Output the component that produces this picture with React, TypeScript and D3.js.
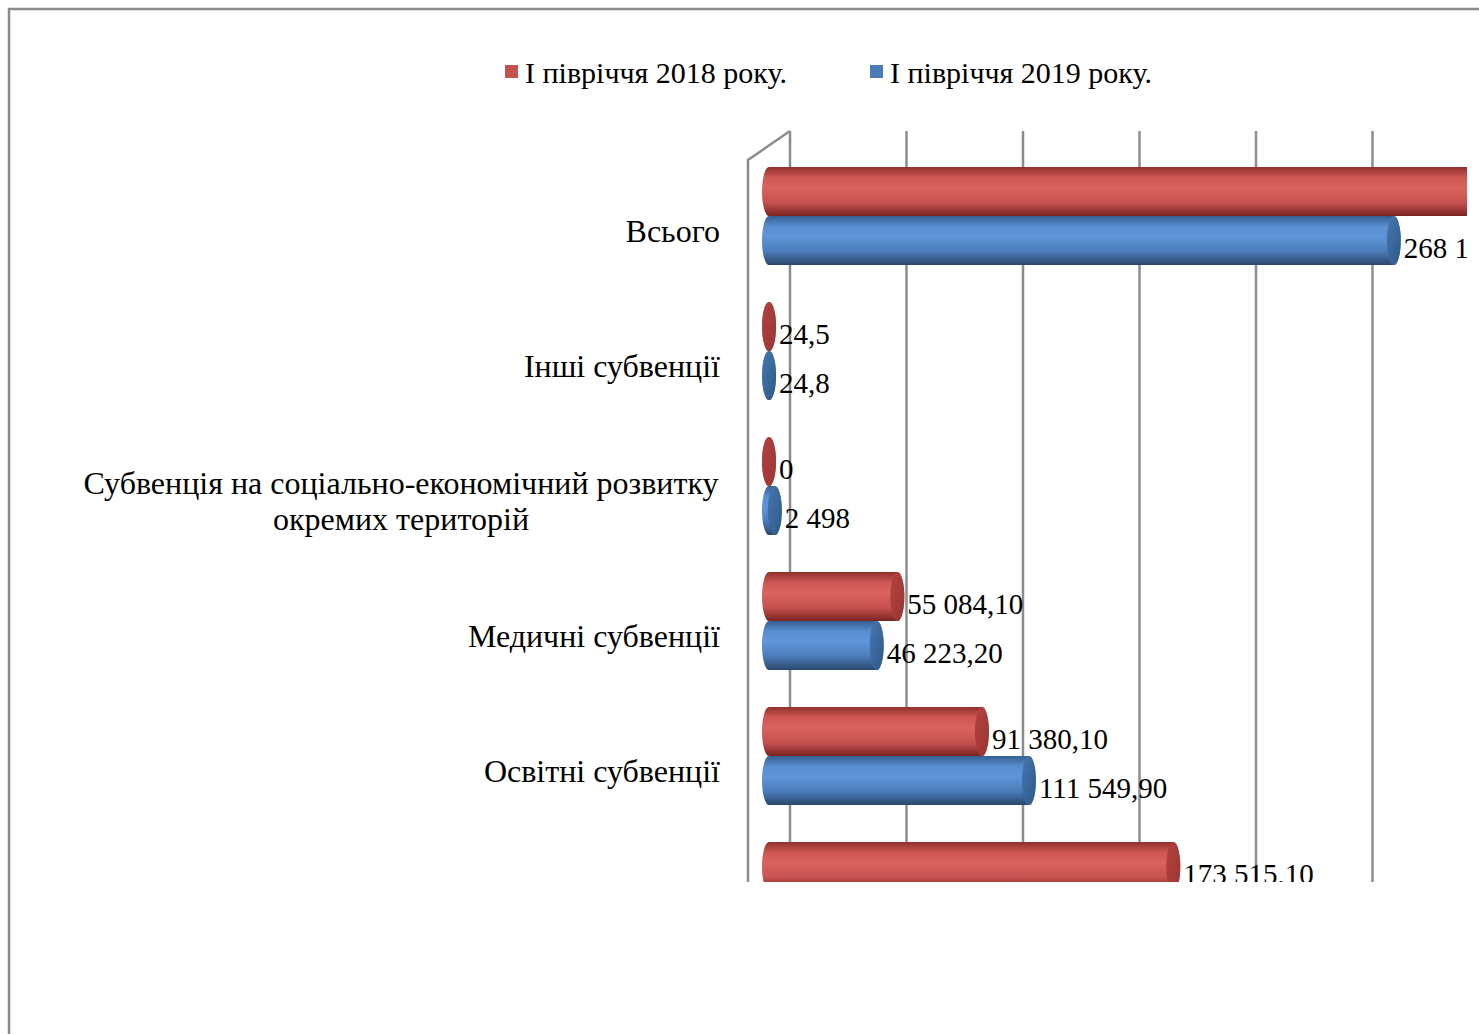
import React from "react";
import * as d3 from "d3";

const categories = [
  "Всього",
  "Інші субвенції",
  "Субвенція на соціально-економічний розвитку\nокремих територій",
  "Медичні субвенції",
  "Освітні субвенції",
  "Дотації",
];
const seriesNames = ["І півріччя 2018 року.", "І півріччя 2019 року."];
const values2018 = [320003.8, 24.5, 0, 55084.1, 91380.1, 173515.1];
const values2019 = [268145.9, 24.8, 2498, 46223.2, 111549.9, 107850.0];
const labels2018 = ["320 003,80", "24,5", "0", "55 084,10", "91 380,10", "173 515,10"];
const labels2019 = ["268 145,90", "24,8", "2 498", "46 223,20", "111 549,90", "107 850,00"];
const ticks = [0, 50000, 100000, 150000, 200000, 250000, 300000];

const W = 1479;
const H = 1034;
const FONT = "'Liberation Serif', 'Times New Roman', serif";

// 3d geometry
const frontX = 748;
const depthX = 42;
const depthY = -29;
const wallTop = 160;
const clipRight = 1467;
const clipBottom = 882;

const palette = [
  { stops: ["#8f302d", "#cf5854", "#db625e", "#c6524f", "#7a2422"], cap: ["#b4423f", "#9a3532"] },
  { stops: ["#355f92", "#5a8fd0", "#5f96d9", "#4b7cb8", "#2a476c"], cap: ["#4777b0", "#2f5888"] },
];

export default function App() {
  const x = d3.scaleLinear().domain([0, 300000]).range([0, 699]);
  const y = d3.scaleBand<string>().domain(categories).range([wallTop, wallTop + 135 * categories.length]);
  const ySub = d3.scaleBand<number>().domain([0, 1]).range([21.5, 119.5]);

  const barX0 = frontX + depthX / 2;
  const barDy = depthY / 2;
  const ry = ySub.bandwidth() / 2;
  const rx = 7;

  const series = [
    { values: values2018, labels: labels2018 },
    { values: values2019, labels: labels2019 },
  ];

  const cylinder = (x0: number, x1: number, cy: number) =>
    `M${x0},${cy - ry}L${x1},${cy - ry}A${rx},${ry} 0 0 1 ${x1},${cy + ry}` +
    `L${x0},${cy + ry}A${rx},${ry} 0 0 1 ${x0},${cy - ry}Z`;

  return (
    <svg
      width={W}
      height={H}
      style={{ position: "absolute", left: 0, top: 0, background: "#fff" }}
      fontFamily={FONT}
    >
      <defs>
        <clipPath id="plotClip">
          <rect x={0} y={0} width={clipRight} height={clipBottom} />
        </clipPath>
        {palette.map((p, i) => (
          <linearGradient key={"b" + i} id={"body" + i} x1="0" y1="0" x2="0" y2="1">
            <stop offset="0%" stopColor={p.stops[0]} />
            <stop offset="22%" stopColor={p.stops[1]} />
            <stop offset="42%" stopColor={p.stops[2]} />
            <stop offset="72%" stopColor={p.stops[3]} />
            <stop offset="100%" stopColor={p.stops[4]} />
          </linearGradient>
        ))}
        {palette.map((p, i) => (
          <linearGradient key={"c" + i} id={"cap" + i} x1="0" y1="0" x2="1" y2="1">
            <stop offset="0%" stopColor={p.cap[0]} />
            <stop offset="100%" stopColor={p.cap[1]} />
          </linearGradient>
        ))}
      </defs>

      {/* outer frame */}
      <path d={`M9,${H + 5}V9H${W + 5}`} fill="none" stroke="#8c8c8c" strokeWidth={2.5} />

      {/* legend */}
      <g fontSize={30}>
        {seriesNames.map((s, i) => {
          const lx = i === 0 ? 505 : 870;
          return (
            <g key={s}>
              <rect x={lx} y={65} width={13} height={13} fill={palette[i].stops[3]} />
              <text x={lx + 20} y={83}>
                {s}
              </text>
            </g>
          );
        })}
      </g>

      <g clipPath="url(#plotClip)">
        {/* walls and gridlines */}
        <g stroke="#8c8c8c" strokeWidth={2.5} fill="none">
          <path d={`M${frontX},${clipBottom + 10}V${wallTop}L${frontX + depthX},${wallTop + depthY}`} />
          {ticks.map((t) => (
            <line
              key={t}
              x1={frontX + depthX + x(t)}
              x2={frontX + depthX + x(t)}
              y1={wallTop + depthY}
              y2={clipBottom + 10}
            />
          ))}
        </g>

        {/* category labels */}
        <g fontSize={32}>
          {categories.map((c) => {
            const lines = c.split("\n");
            const cy = (y(c) as number) + y.bandwidth() / 2;
            const multi = lines.length > 1;
            return (
              <text key={c} textAnchor={multi ? "middle" : "end"}>
                {lines.map((l, k) => (
                  <tspan key={k} x={multi ? 401 : 720} y={cy + 14 + (k - (lines.length - 1) / 2) * 36}>
                    {l}
                  </tspan>
                ))}
              </text>
            );
          })}
        </g>

        {/* bars */}
        {categories.map((c, ci) =>
          series.map((s, si) => {
            const cy = (y(c) as number) + (ySub(si) as number) + ry + barDy;
            const x1 = barX0 + x(s.values[ci]);
            return (
              <g key={c + si}>
                <path d={cylinder(barX0, x1, cy)} fill={`url(#body${si})`} />
                <ellipse cx={x1} cy={cy} rx={rx} ry={ry} fill={`url(#cap${si})`} />
                <text x={x1 + rx + 3} y={cy + 17} fontSize={29}>
                  {s.labels[ci]}
                </text>
              </g>
            );
          })
        )}
      </g>
    </svg>
  );
}
